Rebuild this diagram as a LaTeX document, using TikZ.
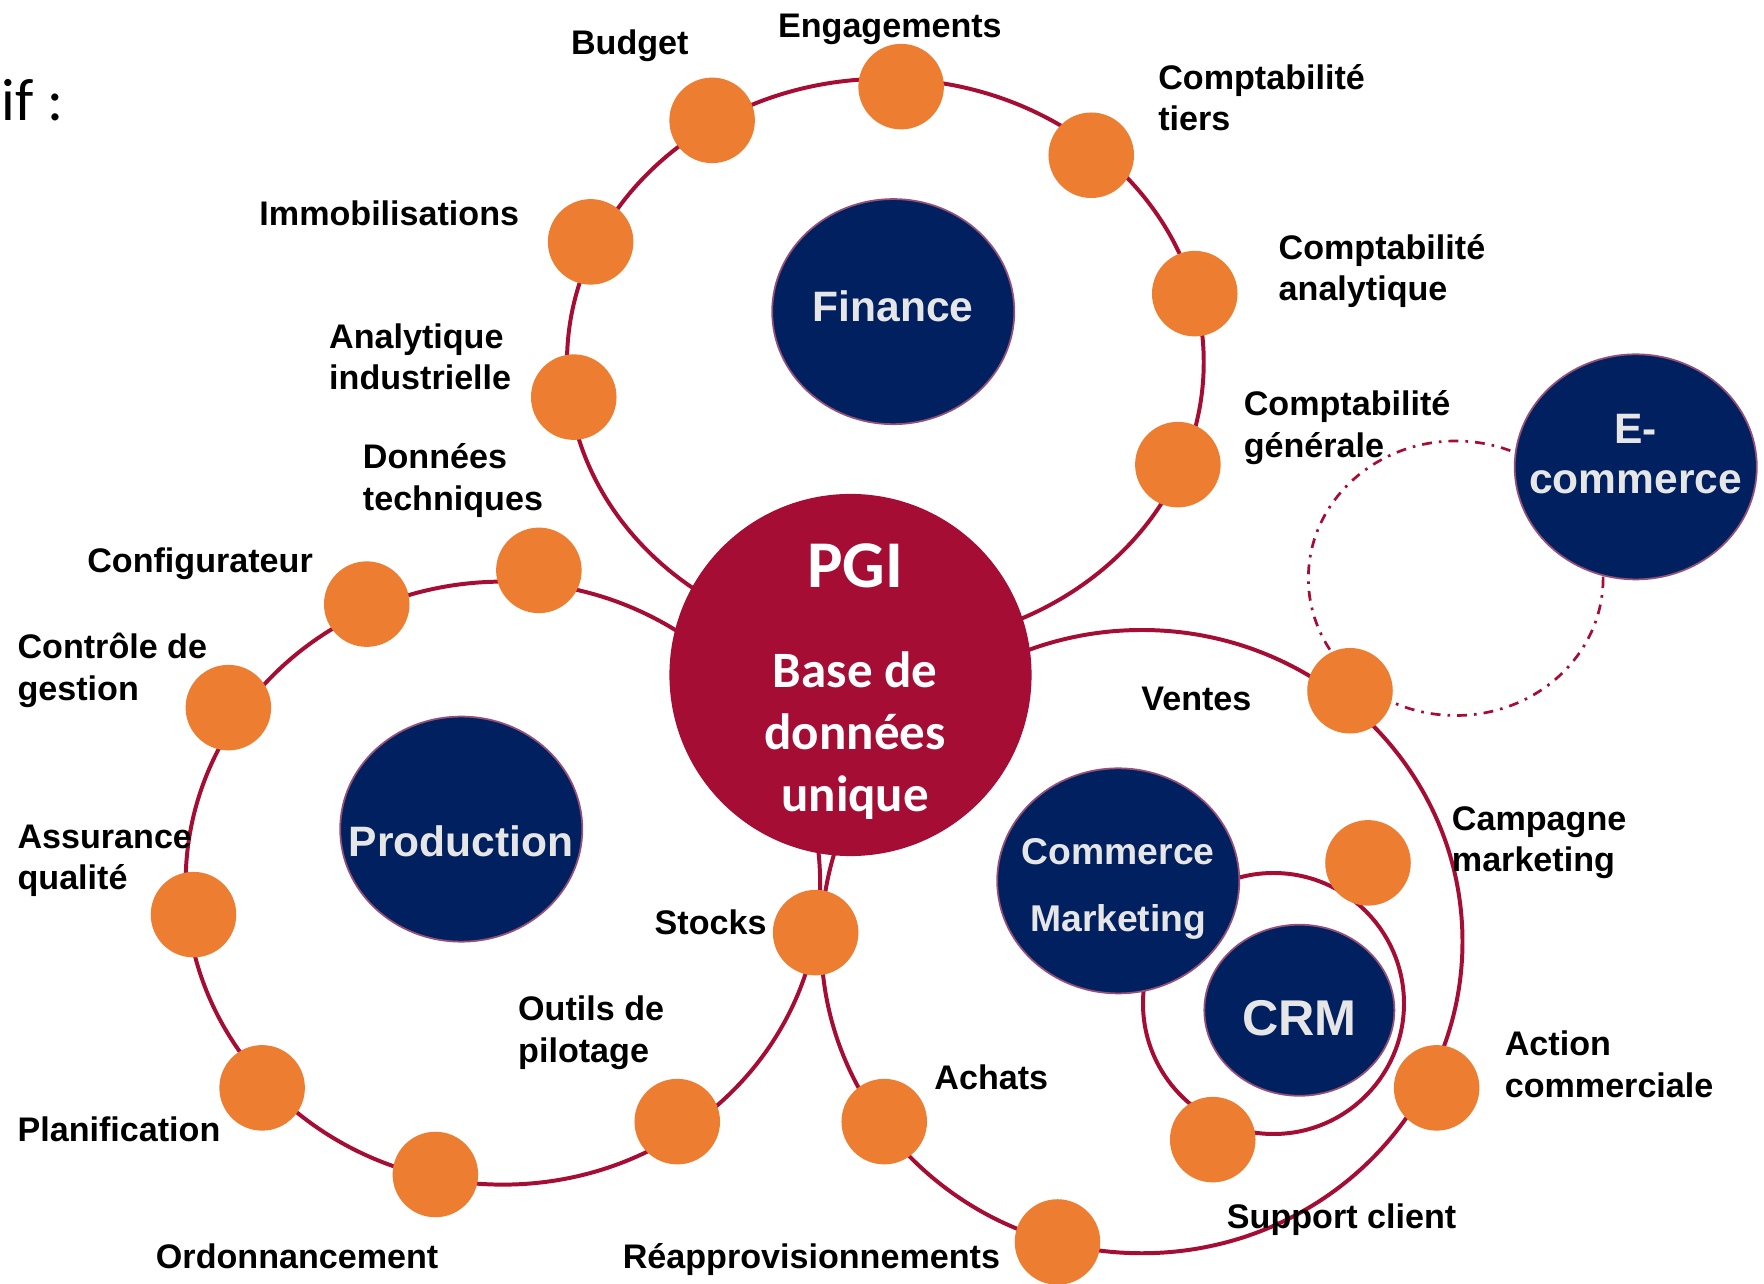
\documentclass[tikz,border=0pt]{standalone}
\usepackage{fontspec}
\setmainfont{Liberation Sans}
\newfontfamily\calibri{Carlito}
\usetikzlibrary{shapes.geometric}

\definecolor{pgired}{RGB}{165,13,53}
\definecolor{navy}{RGB}{0,32,96}
\definecolor{orangedot}{RGB}{237,125,49}
\definecolor{lightgrey}{RGB}{231,230,230}
\definecolor{mauve}{RGB}{150,80,120}

\begin{document}
\begin{tikzpicture}[
		x=0.01125cm, y=-0.01125cm,
		ring/.style={draw=pgired,line width=1.13pt},
		func/.style={circle,fill=orangedot,minimum size=0.855cm,inner sep=0pt},
		module/.style={ellipse,fill=navy,draw=mauve,line width=0.5pt,minimum width=2.42cm,minimum height=2.25cm,inner sep=0pt},
		mtext/.style={text=lightgrey,align=center,inner sep=0pt,font=\bfseries\fontsize{12.1}{14.4}\selectfont},
		core/.style={circle,fill=pgired,minimum size=3.62cm,inner sep=0pt},
		ctext/.style={text=white,align=center,inner sep=0pt,font=\calibri\bfseries\fontsize{14.5}{17.6}\selectfont},
		lbl/.style={font=\bfseries\fontsize{9.7}{11.8}\selectfont,align=left,inner sep=0pt,anchor=west}
	]
		\useasboundingbox (0,0) rectangle (1568,1141);

		% Rings
		\draw[ring] (787,322) ellipse [x radius=283, y radius=252];
		\draw[ring] (447,785) ellipse [x radius=282, y radius=268];
		\draw[ring] (1015,837) ellipse [x radius=285, y radius=277];
		\draw[ring] (1132,892) circle [radius=116];
		\draw[draw=pgired,line width=0.77pt,dash pattern=on 2.8pt off 2pt on 0.75pt off 2pt]
			(1294,514) ellipse [x radius=131, y radius=122];

		% Modules
		\node[core,label={[ctext,xshift=1.3pt,yshift=-1.9pt]center:{{\fontsize{19}{23}\selectfont PGI}\\[10.9pt]Base de\\données\\unique}}]
			(pgi) at (756,600) {};
		\node[module,label={[mtext,yshift=1.6pt]center:Finance}] (finance) at (794,277) {};
		\node[module,label={[mtext,yshift=-3.5pt]center:Production}] (production) at (410,737) {};
		\node[module,label={[mtext,yshift=3.6pt]center:{E-\\commerce}}] (ecommerce) at (1454,415) {};
		\node[module,label={[mtext,yshift=-2.2pt,font=\bfseries\fontsize{10.6}{19}\selectfont]center:{Commerce\\Marketing}}]
			(commerce) at (994,783) {};
		\node[module,minimum width=1.9cm,minimum height=1.71cm,
			label={[mtext,yshift=-2.2pt,font=\bfseries\fontsize{14.3}{17}\selectfont]center:CRM}] (crm) at (1155,898) {};

		% Functions
		\node[func] (budget) at (633,107) {};
		\node[func] (engag) at (801,77) {};
		\node[func] (ctiers) at (970,138) {};
		\node[func] (canal) at (1062,261) {};
		\node[func] (cgen) at (1047,413) {};
		\node[func] (immo) at (525,215) {};
		\node[func] (aind) at (510,353) {};
		\node[func] (dtech) at (479,507) {};
		\node[func] (config) at (326,537) {};
		\node[func] (cgest) at (203,629) {};
		\node[func] (aqual) at (172,813) {};
		\node[func] (plan) at (233,967) {};
		\node[func] (ordo) at (387,1044) {};
		\node[func] (outils) at (602,997) {};
		\node[func] (stocks) at (725,829) {};
		\node[func] (achats) at (786,997) {};
		\node[func] (reappro) at (940,1104) {};
		\node[func] (ventes) at (1200,614) {};
		\node[func] (campagne) at (1216,767) {};
		\node[func] (action) at (1277,967) {};
		\node[func] (support) at (1078,1013) {};

		% Labels
		\node[lbl] (l-budget) at (507,41) {Budget};
		\node[lbl] (l-engag) at (691,26) {Engagements};
		\node[lbl] (l-ctiers) at (1029,87) {Comptabilité\\tiers};
		\node[lbl] (l-canal) at (1136,241) {Comptabilité\\analytique};
		\node[lbl] (l-cgen) at (1105,380) {Comptabilité\\générale};
		\node[lbl] (l-immo) at (230,190) {Immobilisations};
		\node[lbl] (l-aind) at (292,317) {Analytique\\industrielle};
		\node[lbl] (l-dtech) at (322,427) {Données\\techniques};
		\node[lbl] (l-config) at (77,501) {Configurateur};
		\node[lbl] (l-cgest) at (15,596) {Contrôle de\\gestion};
		\node[lbl] (l-aqual) at (15,765) {Assurance\\qualité};
		\node[lbl] (l-plan) at (15,1004) {Planification};
		\node[lbl] (l-ordo) at (138,1117) {Ordonnancement};
		\node[lbl] (l-outils) at (460,918) {Outils de\\pilotage};
		\node[lbl,anchor=east] (l-stocks) at (682,820) {Stocks};
		\node[lbl] (l-ventes) at (1014,621) {Ventes};
		\node[lbl] (l-campagne) at (1290,749) {Campagne\\marketing};
		\node[lbl] (l-achats) at (830,958) {Achats};
		\node[lbl] (l-action) at (1337,946) {Action\\commerciale};
		\node[lbl] (l-support) at (1090,1084) {Support client};
		\node[lbl] (l-reappro) at (553,1120) {Réapprovisionnements};

		% Cut-off slide text
		\node[anchor=base west,inner sep=0pt,font=\calibri\fontsize{17}{20}\selectfont] (cut) at (1,107) {if :};
	\end{tikzpicture}
\end{document}
